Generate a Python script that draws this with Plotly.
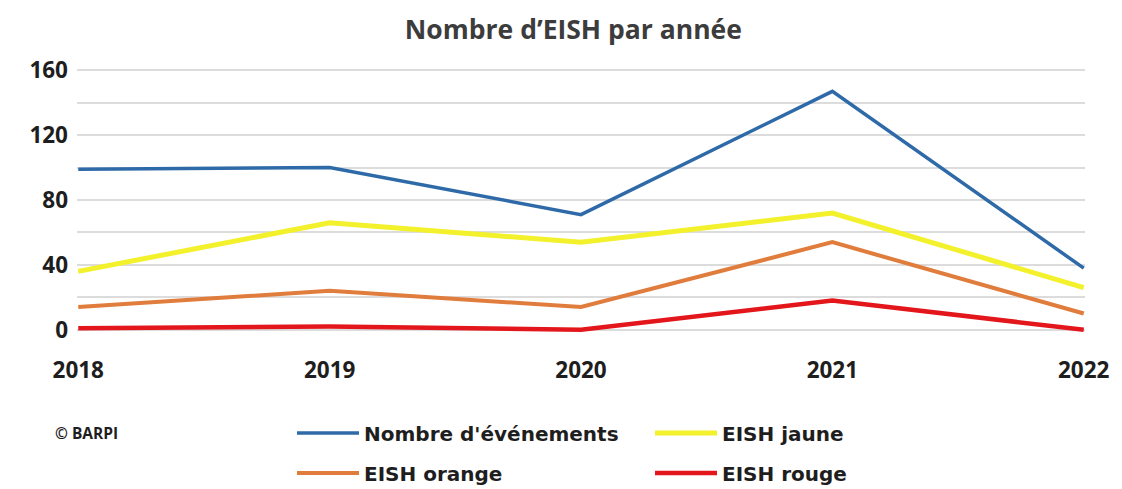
import plotly.graph_objects as go

years = [2018, 2019, 2020, 2021, 2022]
evenements = [99, 100, 71, 147, 38]
eish_jaune = [36, 66, 54, 72, 26]
eish_orange = [14, 24, 14, 54, 10]
eish_rouge = [1, 2, 0, 18, 0]

y_tickvals = [0, 20, 40, 60, 80, 100, 120, 140, 160]
y_ticktext = ["0", "", "40", "", "80", "", "120", "", "160"]

series = [
    ("Nombre d'événements", evenements, "#2f6aa8", 3.5, "legend"),
    ("EISH jaune", eish_jaune, "#f3f02c", 5, "legend"),
    ("EISH orange", eish_orange, "#e07d3c", 4, "legend2"),
    ("EISH rouge", eish_rouge, "#e3161b", 4.5, "legend2"),
]

fig = go.Figure()
for name, vals, color, w, lg in series:
    fig.add_trace(go.Scatter(x=years, y=vals, name=name, mode="lines",
                             line=dict(color=color, width=w), legend=lg))

tick_font = dict(family="Open Sans", size=22.5, color="#1e1e1e", weight=700)
leg_font = dict(family="DejaVu Sans", size=20, color="#1e1e1e", weight=700)

leg_common = dict(orientation="h", x=0.2133, xanchor="left", yref="container",
                  yanchor="middle", font=leg_font, entrywidth=281, itemwidth=62,
                  bgcolor="rgba(0,0,0,0)")

fig.update_layout(
    width=1122, height=489,
    paper_bgcolor="white", plot_bgcolor="white",
    margin=dict(l=77, r=32, t=67, b=156),
    title=dict(text="Nombre d’EISH par année", x=0.511, xanchor="center",
               y=1 - 30 / 489, yanchor="middle", yref="container",
               font=dict(family="Open Sans", size=26.5, color="#3c3c3c", weight=700)),
    xaxis=dict(range=[2017.995, 2022.005], tickvals=years, ticktext=[str(y) for y in years],
               showgrid=False, zeroline=False, showline=False, ticks="",
               tickfont=tick_font, ticklabelstandoff=21),
    yaxis=dict(range=[-2, 162], tickvals=y_tickvals, ticktext=y_ticktext,
               showgrid=True, gridcolor="#dcdcdc", gridwidth=2, zeroline=False,
               showline=False, ticks="", tickfont=tick_font, ticklabelstandoff=8),
    legend=dict(leg_common, y=(489 - 433) / 489),
    legend2=dict(leg_common, y=(489 - 473) / 489),
    annotations=[dict(text="© BARPI", xref="paper", yref="paper", x=-0.024, xanchor="left",
                      y=(489 - 433 - 156) / (489 - 67 - 156), yanchor="middle", showarrow=False,
                      font=dict(family="Open Sans", size=15.5, color="#1e1e1e", weight=700))],
)

fig.write_html("out.html", config={"displayModeBar": False},
               post_script="document.body.style.margin='0';")
